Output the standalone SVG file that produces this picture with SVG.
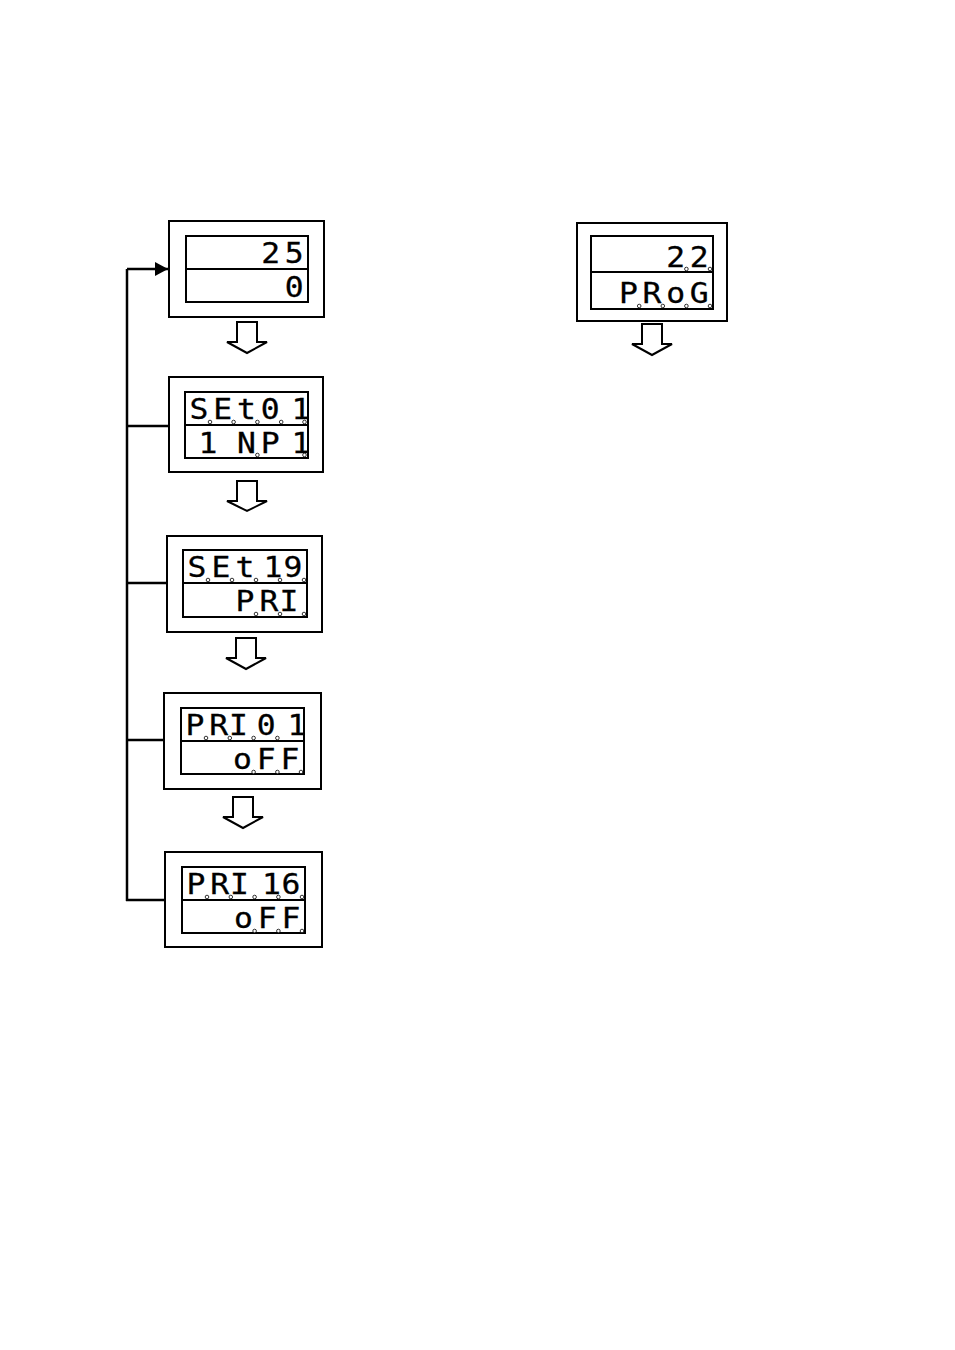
<svg xmlns="http://www.w3.org/2000/svg" width="955" height="1350" viewBox="0 0 955 1350">
<style>
.outer{fill:#fff;stroke:#000;stroke-width:2}
.disp{fill:none;stroke:#000;stroke-width:2}
.seg{font-family:"DejaVu Sans Mono","Liberation Mono",monospace;font-size:28.5px;fill:#000;stroke:#000;stroke-width:0.3;text-anchor:middle}
.dp{fill:#fff;stroke:#000;stroke-width:0.8}
.harrow{fill:#fff;stroke:#000;stroke-width:2;stroke-linejoin:miter}
.conn{stroke:#000;stroke-width:2.5;fill:none}
</style>
<defs>
<marker id="ah" markerUnits="userSpaceOnUse" markerWidth="14" markerHeight="16" refX="13" refY="7" orient="auto">
<path d="M0,0 L13,7 L0,14 Z" fill="#000"/>
</marker>
</defs>
<rect width="955" height="1350" fill="#fff"/>

<g id="connectors">
<path class="conn" d="M127,269 V901 M126,900 H165 M127,426 H169 M127,583 H167 M127,740 H164"/>
<path class="conn" d="M127,269 H168" marker-end="url(#ah)"/>
<polygon class="harrow" points="237,322 257,322 257,342 267,342 247,353 227,342 237,342"/>
<polygon class="harrow" points="237,481 257,481 257,501 267,501 247,511 227,501 237,501"/>
<polygon class="harrow" points="236,638 256,638 256,658 266,658 246,669 226,658 236,658"/>
<polygon class="harrow" points="233,797 253,797 253,817 263,817 243,828 223,817 233,817"/>
<polygon class="harrow" points="642,324 662,324 662,344 672,344 652,355 632,344 642,344"/>
</g>

<g id="node1">
<rect class="outer" x="169" y="221" width="155" height="96"/>
<rect class="disp" x="186" y="236" width="122" height="66"/>
<line class="disp" x1="186" y1="269" x2="308" y2="269"/>
<text class="seg" transform="scale(1.1,1)"><tspan x="246" y="263.5">2</tspan><tspan x="267.45" y="263.5">5</tspan></text>
<text class="seg" transform="scale(1.1,1)"><tspan x="267.45" y="297.5">0</tspan></text>
</g>

<g id="node2">
<rect class="outer" x="169" y="377" width="154" height="95"/>
<rect class="disp" x="185" y="392" width="123" height="66"/>
<line class="disp" x1="185" y1="425" x2="308" y2="425"/>
<text class="seg" transform="scale(1.1,1)"><tspan x="180.8" y="419.5">S</tspan><tspan x="202.45" y="419.5">E</tspan><tspan x="224.1" y="419.5">t</tspan><tspan x="245.7" y="419.5">0</tspan><tspan x="273.6" y="419.5">1</tspan></text>
<text class="seg" transform="scale(1.1,1)"><tspan x="189.1" y="453.5">1</tspan><tspan x="224.1" y="453.5">N</tspan><tspan x="245.7" y="453.5">P</tspan><tspan x="273.6" y="453.5">1</tspan></text>
<circle class="dp" cx="210" cy="422" r="1.8"/><circle class="dp" cx="233.6" cy="422" r="1.8"/><circle class="dp" cx="257.4" cy="422" r="1.8"/><circle class="dp" cx="281.2" cy="422" r="1.8"/><circle class="dp" cx="304.5" cy="422" r="1.8"/>
<circle class="dp" cx="257.4" cy="455" r="1.8"/><circle class="dp" cx="304.5" cy="455" r="1.8"/>
</g>

<g id="node3">
<rect class="outer" x="167" y="536" width="155" height="96"/>
<rect class="disp" x="183" y="550" width="124" height="67"/>
<line class="disp" x1="183" y1="583" x2="307" y2="583"/>
<text class="seg" transform="scale(1.1,1)"><tspan x="179.1" y="577.5">S</tspan><tspan x="200.9" y="577.5">E</tspan><tspan x="222.7" y="577.5">t</tspan><tspan x="248.2" y="577.5">1</tspan><tspan x="266.4" y="577.5">9</tspan></text>
<text class="seg" transform="scale(1.1,1)"><tspan x="222.7" y="611.5">P</tspan><tspan x="244.5" y="611.5">R</tspan><tspan x="262.7" y="611.5">I</tspan></text>
<circle class="dp" cx="208" cy="580" r="1.8"/><circle class="dp" cx="232" cy="580" r="1.8"/><circle class="dp" cx="256" cy="580" r="1.8"/><circle class="dp" cx="280" cy="580" r="1.8"/><circle class="dp" cx="304" cy="580" r="1.8"/>
<circle class="dp" cx="256" cy="614" r="1.8"/><circle class="dp" cx="280" cy="614" r="1.8"/><circle class="dp" cx="304" cy="614" r="1.8"/>
</g>

<g id="node4">
<rect class="outer" x="164" y="693" width="157" height="96"/>
<rect class="disp" x="181" y="708" width="123" height="66"/>
<line class="disp" x1="181" y1="741" x2="304" y2="741"/>
<text class="seg" transform="scale(1.1,1)"><tspan x="177.2" y="735.5">P</tspan><tspan x="198.8" y="735.5">R</tspan><tspan x="216.8" y="735.5">I</tspan><tspan x="242.1" y="735.5">0</tspan><tspan x="270" y="735.5">1</tspan></text>
<text class="seg" transform="scale(1.1,1)"><tspan x="220.5" y="769.5">o</tspan><tspan x="242.1" y="769.5">F</tspan><tspan x="263.7" y="769.5">F</tspan></text>
<circle class="dp" cx="206" cy="738" r="1.8"/><circle class="dp" cx="229.8" cy="738" r="1.8"/><circle class="dp" cx="253.6" cy="738" r="1.8"/><circle class="dp" cx="277.4" cy="738" r="1.8"/>
<circle class="dp" cx="253.6" cy="772" r="1.8"/><circle class="dp" cx="277.4" cy="772" r="1.8"/><circle class="dp" cx="301" cy="772" r="1.8"/>
</g>

<g id="node5">
<rect class="outer" x="165" y="852" width="157" height="95"/>
<rect class="disp" x="182" y="867" width="123" height="66"/>
<line class="disp" x1="182" y1="900" x2="305" y2="900"/>
<text class="seg" transform="scale(1.1,1)"><tspan x="178.1" y="894.5">P</tspan><tspan x="199.7" y="894.5">R</tspan><tspan x="217.7" y="894.5">I</tspan><tspan x="246.8" y="894.5">1</tspan><tspan x="264.6" y="894.5">6</tspan></text>
<text class="seg" transform="scale(1.1,1)"><tspan x="221.4" y="928.5">o</tspan><tspan x="243" y="928.5">F</tspan><tspan x="264.6" y="928.5">F</tspan></text>
<circle class="dp" cx="207" cy="897" r="1.8"/><circle class="dp" cx="230.8" cy="897" r="1.8"/><circle class="dp" cx="254.6" cy="897" r="1.8"/><circle class="dp" cx="278.4" cy="897" r="1.8"/><circle class="dp" cx="302" cy="897" r="1.8"/>
<circle class="dp" cx="254.6" cy="931" r="1.8"/><circle class="dp" cx="278.4" cy="931" r="1.8"/><circle class="dp" cx="302" cy="931" r="1.8"/>
</g>

<g id="node6">
<rect class="outer" x="577" y="223" width="150" height="98"/>
<rect class="disp" x="591" y="236" width="122" height="73"/>
<line class="disp" x1="591" y1="272" x2="713" y2="272"/>
<text class="seg" transform="scale(1.1,1)"><tspan x="614.2" y="267">2</tspan><tspan x="635.6" y="267">2</tspan></text>
<text class="seg" transform="scale(1.1,1)"><tspan x="571.3" y="303">P</tspan><tspan x="592.7" y="303">R</tspan><tspan x="614.2" y="303">o</tspan><tspan x="635.6" y="303">G</tspan></text>
<circle class="dp" cx="686.4" cy="269" r="1.8"/><circle class="dp" cx="710" cy="269" r="1.8"/>
<circle class="dp" cx="639.2" cy="306" r="1.8"/><circle class="dp" cx="662.8" cy="306" r="1.8"/><circle class="dp" cx="686.4" cy="306" r="1.8"/><circle class="dp" cx="710" cy="306" r="1.8"/>
</g>
</svg>
